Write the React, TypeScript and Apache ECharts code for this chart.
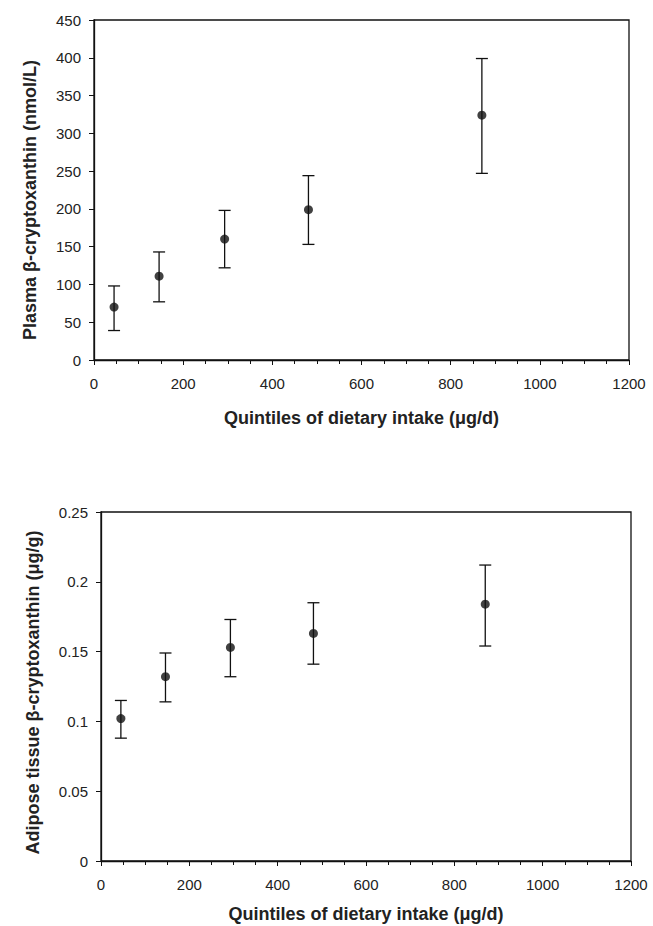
import React, { useEffect, useRef } from "react";
import * as echarts from "echarts";

const intakeX = [45, 146, 293, 481, 870];
const plasmaMean = [70, 111, 160, 199, 324];
const plasmaLow = [39, 77, 122, 153, 247];
const plasmaHigh = [98, 143, 198, 244, 399];
const adiposeMean = [0.102, 0.132, 0.153, 0.163, 0.184];
const adiposeLow = [0.088, 0.114, 0.132, 0.141, 0.154];
const adiposeHigh = [0.115, 0.149, 0.173, 0.185, 0.212];

const xTitle = "Quintiles of dietary intake (\u03bcg/d)";
const yTitleTop = "Plasma \u03b2-cryptoxanthin (nmol/L)";
const yTitleBottom = "Adipose tissue \u03b2-cryptoxanthin (\u03bcg/g)";

const FONT = "'Liberation Sans', Arial, sans-serif";

function errorBarRender(params: any, api: any) {
  const x = api.value(0);
  const lo = api.coord([x, api.value(1)]);
  const hi = api.coord([x, api.value(2)]);
  const cap = 6;
  const style = { stroke: "#111", lineWidth: 1.3 };
  return {
    type: "group",
    children: [
      { type: "line", shape: { x1: lo[0], y1: lo[1], x2: hi[0], y2: hi[1] }, style },
      { type: "line", shape: { x1: lo[0] - cap, y1: lo[1], x2: lo[0] + cap, y2: lo[1] }, style },
      { type: "line", shape: { x1: hi[0] - cap, y1: hi[1], x2: hi[0] + cap, y2: hi[1] }, style },
    ],
  };
}

export default function App() {
  const ref = useRef<HTMLDivElement>(null);
  useEffect(() => {
    if (!ref.current) return;
    const chart = echarts.init(ref.current, undefined, { renderer: "svg" });
    const axisLine = { show: true, lineStyle: { color: "#111", width: 1.3 } };
    const labelStyle = { color: "#222", fontSize: 15, fontFamily: FONT };
    const nameStyle = { color: "#222", fontSize: 18, fontWeight: "bold" as const, fontFamily: FONT };
    const makeX = (gridIndex: number, gap: number) => ({
      type: "value",
      gridIndex,
      min: 0,
      max: 1200,
      interval: 200,
      name: xTitle,
      nameLocation: "middle",
      nameGap: gap,
      nameTextStyle: nameStyle,
      axisLine,
      axisTick: { show: true, inside: false, length: 5, lineStyle: { color: "#111" } },
      minorTick: { show: true, splitNumber: 4, length: 4, lineStyle: { color: "#111" } },
      axisLabel: { ...labelStyle, margin: 16, formatter: (v: number) => String(v) },
      splitLine: { show: false },
    });
    const makeY = (gridIndex: number, max: number, interval: number, name: string, gap: number, shift: number) => ({
      type: "value",
      gridIndex,
      min: 0,
      max,
      interval,
      name,
      nameLocation: "middle",
      nameGap: gap,
      nameTextStyle: { ...nameStyle, padding: [0, shift * 2, 0, 0] },
      axisLine,
      axisTick: { show: true, inside: false, length: 5, lineStyle: { color: "#111" } },
      axisLabel: { ...labelStyle, margin: 13, formatter: (v: number) => String(Number(v.toFixed(4))) },
      splitLine: { show: false },
    });
    chart.setOption({
      animation: false,
      backgroundColor: "#fff",
      grid: [
        { left: 94, right: 24, top: 20, height: 340, show: true, borderColor: "#111", borderWidth: 1.3, backgroundColor: "transparent" },
        { left: 101, right: 22, top: 512, height: 349, show: true, borderColor: "#111", borderWidth: 1.3, backgroundColor: "transparent" },
      ],
      xAxis: [makeX(0, 49), makeX(1, 44)],
      yAxis: [
        makeY(0, 450, 50, yTitleTop, 55, 10),
        makeY(1, 0.25, 0.05, yTitleBottom, 59, 6),
      ],
      series: [
        {
          type: "custom",
          xAxisIndex: 0,
          yAxisIndex: 0,
          renderItem: errorBarRender,
          data: intakeX.map((x, i) => [x, plasmaLow[i], plasmaHigh[i]]),
          z: 2,
        },
        {
          type: "scatter",
          xAxisIndex: 0,
          yAxisIndex: 0,
          symbolSize: 9,
          itemStyle: { color: "#111" },
          data: intakeX.map((x, i) => [x, plasmaMean[i]]),
          z: 3,
        },
        {
          type: "custom",
          xAxisIndex: 1,
          yAxisIndex: 1,
          renderItem: errorBarRender,
          data: intakeX.map((x, i) => [x, adiposeLow[i], adiposeHigh[i]]),
          z: 2,
        },
        {
          type: "scatter",
          xAxisIndex: 1,
          yAxisIndex: 1,
          symbolSize: 9,
          itemStyle: { color: "#111" },
          data: intakeX.map((x, i) => [x, adiposeMean[i]]),
          z: 3,
        },
      ],
    });
    return () => chart.dispose();
  }, []);
  return (
    <div
      ref={ref}
      style={{ position: "fixed", left: 0, top: 0, width: 653, height: 926, background: "#fff" }}
    />
  );
}
